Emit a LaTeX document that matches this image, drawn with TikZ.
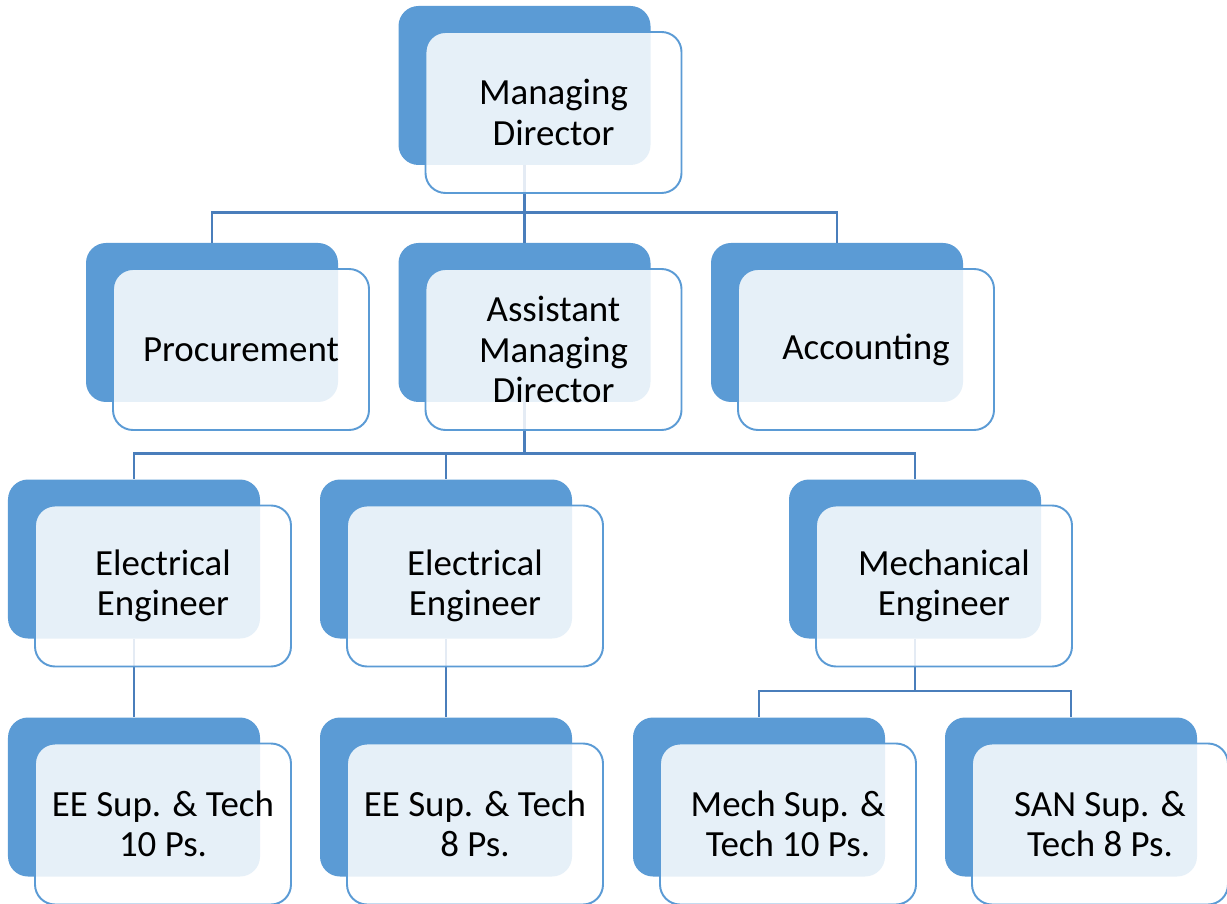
\documentclass[tikz,border=0pt]{standalone}
\usepackage{fontspec}
\setmainfont{Carlito}
\usepackage{tikz}
\usetikzlibrary{positioning}
\definecolor{officeblue}{RGB}{91,155,213}
\definecolor{linkblue}{RGB}{74,126,187}
\tikzstyle{backbox} = [rectangle, rounded corners=0.4cm, minimum width=5.04cm, minimum height=3.18cm, inner sep=0pt, fill=officeblue]
\tikzstyle{frontbox} = [rectangle, rounded corners=0.4cm, minimum width=5.12cm, minimum height=3.22cm, inner sep=0pt, draw=officeblue, line width=1.1pt, fill=white, fill opacity=0.85, text opacity=1, align=center, font=\fontsize{21}{23}\selectfont]
\tikzstyle{link} = [draw=linkblue, line width=1.4pt]

\begin{document}
\begin{tikzpicture}
\useasboundingbox (0,0) rectangle (24.54,-18.08);
% back boxes
\node (mdback) [backbox] at (10.49,-1.71) {};
\node (procback) [backbox] at (4.24,-6.45) {};
\node (asstback) [backbox] at (10.49,-6.45) {};
\node (accback) [backbox] at (16.74,-6.45) {};
\node (eeaback) [backbox] at (2.68,-11.18) {};
\node (eebback) [backbox] at (8.92,-11.18) {};
\node (mechback) [backbox] at (18.30,-11.18) {};
\node (supaback) [backbox] at (2.68,-15.94) {};
\node (supbback) [backbox] at (8.92,-15.94) {};
\node (mechsupback) [backbox] at (15.18,-15.94) {};
\node (sanback) [backbox] at (21.42,-15.94) {};
% connectors
\draw[link] (mdback.south) -- ++(0,-0.94) coordinate (busa) -| (procback.north);
\draw[link] (busa) -| (asstback.north);
\draw[link] (busa) -| (accback.north);
\draw[link] (asstback.south) -- ++(0,-1.02) coordinate (busb) -| (eeaback.north);
\draw[link] (busb) -| (eebback.north);
\draw[link] (busb) -| (mechback.north);
\draw[link] (eeaback.south) -- (supaback.north);
\draw[link] (eebback.south) -- (supbback.north);
\draw[link] (mechback.south) -- ++(0,-1.04) coordinate (busc) -| (mechsupback.north);
\draw[link] (busc) -| (sanback.north);
% front boxes
\node (md) [frontbox] at ([shift={(0.58,-0.54)}]mdback.center) {Managing\\Director};
\node (proc) [frontbox] at ([shift={(0.58,-0.54)}]procback.center) {Procurement};
\node (asst) [frontbox] at ([shift={(0.58,-0.54)}]asstback.center) {Assistant\\Managing\\Director};
\node (acc) [frontbox] at ([shift={(0.58,-0.54)}]accback.center) {Accounting};
\node (eea) [frontbox] at ([shift={(0.58,-0.54)}]eeaback.center) {Electrical\\Engineer};
\node (eeb) [frontbox] at ([shift={(0.58,-0.54)}]eebback.center) {Electrical\\Engineer};
\node (mech) [frontbox] at ([shift={(0.58,-0.54)}]mechback.center) {Mechanical\\Engineer};
\node (supa) [frontbox] at ([shift={(0.58,-0.54)}]supaback.center) {EE Sup. \& Tech\\10 Ps.};
\node (supb) [frontbox] at ([shift={(0.58,-0.54)}]supbback.center) {EE Sup. \& Tech\\8 Ps.};
\node (mechsup) [frontbox] at ([shift={(0.58,-0.54)}]mechsupback.center) {Mech Sup. \&\\Tech 10 Ps.};
\node (san) [frontbox] at ([shift={(0.58,-0.54)}]sanback.center) {SAN Sup. \&\\Tech 8 Ps.};
\end{tikzpicture}
\end{document}
